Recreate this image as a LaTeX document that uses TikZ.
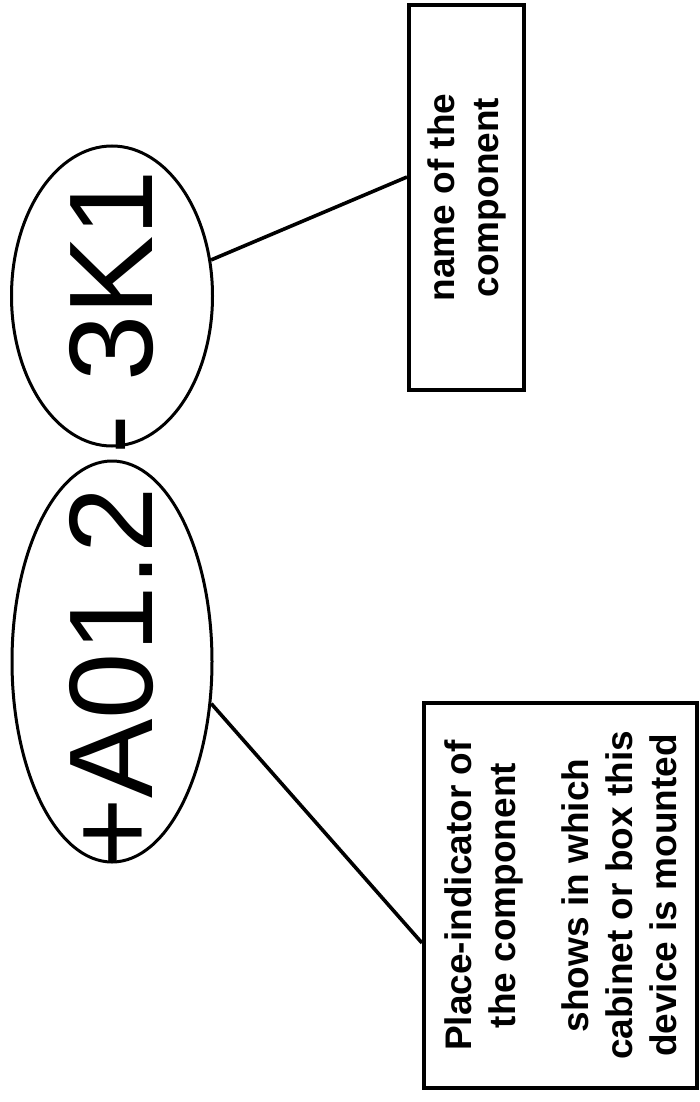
\documentclass[tikz,border=0pt]{standalone}
\usepackage{fontspec}
\setmainfont{Liberation Sans}
\usetikzlibrary{shapes.geometric}

\begin{document}
\begin{tikzpicture}[x=0.5pt, y=-0.5pt,
  markell/.style={draw, ellipse, line width=1.5pt, inner sep=0pt},
  notebox/.style={draw, rectangle, line width=2pt, rotate=90, align=center, inner sep=0pt, font=\fontsize{18.5}{22}\selectfont\bfseries, minimum width=192.5pt},
  leader/.style={line width=1.8pt},
]
\useasboundingbox (0,0) rectangle (700,1102);

% Designation ellipses
\node[markell, minimum width=100.5pt, minimum height=150pt] (comp) at (112,296) {};
\node[markell, minimum width=100pt, minimum height=200.5pt] (place) at (112,661.5) {};

% Designation text
\node[rotate=90, anchor=base, inner sep=0pt, font=\fontsize{59.5}{60}\selectfont] (desig) at (152,519) {+A01.2 - 3K1};

% Explanation boxes
\node[notebox, minimum height=57.5pt] (nameb) at (466.5,197.5) {name of the\\component};
\node[notebox, minimum height=136.5pt] (placeb) at (560.5,895.5) {Place-indicator of\\the component\\[14.5pt]shows in which\\cabinet or box this\\device is mounted};

% Leaders
\draw[leader] (comp.20) -- ([yshift=10.25pt]nameb.north);
\draw[leader] (place.-23) -- ([yshift=-23.75pt]placeb.north);
\end{tikzpicture}
\end{document}
